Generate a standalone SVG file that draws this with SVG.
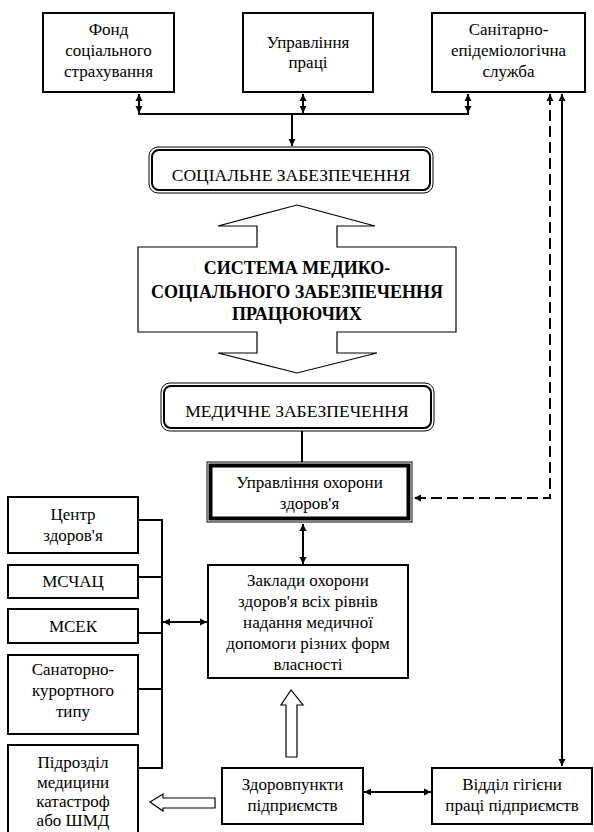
<svg xmlns="http://www.w3.org/2000/svg" width="594" height="832" viewBox="0 0 594 832">
<style>
  .box { fill: #fff; stroke: #000; stroke-width: 2; }
  .t { font-family: "Liberation Serif", "Times New Roman", serif; font-size: 17px; fill: #000; text-anchor: middle; }
  .tc { font-family: "Liberation Serif", "Times New Roman", serif; font-size: 17.5px; fill: #000; text-anchor: middle; }
  .tb { font-family: "Liberation Serif", "Times New Roman", serif; font-size: 18px; font-weight: bold; fill: #000; text-anchor: middle; }
  .ln { fill: none; stroke: #000; stroke-width: 2; }
  .dash { fill: none; stroke: #000; stroke-width: 2; stroke-dasharray: 11 5; }
  .hollow { fill: #fff; stroke: #000; stroke-width: 1.2; }
</style>
<defs>
  <marker id="ah" markerUnits="userSpaceOnUse" markerWidth="8" markerHeight="8" refX="7" refY="4" orient="auto-start-reverse">
    <path d="M0,0.5 L7,4 L0,7.5 z" fill="#000"/>
  </marker>
</defs>
<rect width="594" height="832" fill="#fff"/>

<g id="connectors">
  <line class="ln" x1="139" y1="94" x2="139" y2="113" marker-start="url(#ah)" marker-end="url(#ah)"/>
  <line class="ln" x1="303" y1="94" x2="303" y2="113" marker-start="url(#ah)" marker-end="url(#ah)"/>
  <line class="ln" x1="468" y1="94" x2="468" y2="113" marker-start="url(#ah)" marker-end="url(#ah)"/>
  <line class="ln" x1="138" y1="114" x2="469" y2="114"/>
  <line class="ln" x1="292" y1="114" x2="292" y2="146" marker-end="url(#ah)"/>
  <polyline class="dash" points="550,94 550,498 414,498" marker-start="url(#ah)" marker-end="url(#ah)"/>
  <line class="ln" x1="562" y1="94" x2="562" y2="766" marker-start="url(#ah)" marker-end="url(#ah)"/>
  <line class="ln" x1="302" y1="431" x2="302" y2="462"/>
  <line class="ln" x1="303" y1="524" x2="303" y2="564" marker-start="url(#ah)" marker-end="url(#ah)"/>
  <polyline class="ln" points="138,520 162,520 162,768 138,768"/>
  <line class="ln" x1="138" y1="577" x2="162" y2="577"/>
  <line class="ln" x1="138" y1="633" x2="162" y2="633"/>
  <line class="ln" x1="138" y1="689" x2="162" y2="689"/>
  <line class="ln" x1="163" y1="622" x2="207" y2="622" marker-start="url(#ah)" marker-end="url(#ah)"/>
  <line class="ln" x1="364" y1="792" x2="431" y2="792" marker-start="url(#ah)" marker-end="url(#ah)"/>
  <path class="hollow" d="M286,757 L286,705 L281,705 L291,690 L303,705 L297,705 L297,757 Z"/>
  <path class="hollow" d="M215,798 L163,798 L163,794 L150,802 L163,811 L163,808 L215,808 Z"/>
</g>

<g id="fond">
  <rect class="box" x="43" y="13" width="131" height="79"/>
  <text class="t" x="108.5" y="35">Фонд</text>
  <text class="t" x="108.5" y="56">соціального</text>
  <text class="t" x="108.5" y="77">страхування</text>
</g>
<g id="upr-praci">
  <rect class="box" x="243" y="13" width="130" height="79"/>
  <text class="t" x="308" y="48">Управління</text>
  <text class="t" x="308" y="68">праці</text>
</g>
<g id="ses">
  <rect class="box" x="432" y="13" width="153" height="79"/>
  <text class="t" x="508.5" y="35">Санітарно-</text>
  <text class="t" x="508.5" y="56">епідеміологічна</text>
  <text class="t" x="508.5" y="77">служба</text>
</g>

<g id="social">
  <rect x="149" y="147" width="284" height="46" rx="9" fill="#fff" stroke="#000" stroke-width="1"/>
  <rect x="152" y="150" width="278" height="40" rx="7" fill="none" stroke="#000" stroke-width="2"/>
  <text class="tc" x="291" y="181">СОЦІАЛЬНЕ ЗАБЕЗПЕЧЕННЯ</text>
</g>

<g id="system">
  <path d="M297,205 L375,226 L337,226 L337,247 L456,247 L456,332 L337,332 L337,353 L377,353 L297,373 L218,353 L257,353 L257,332 L138,332 L138,247 L257,247 L257,226 L218,226 Z" fill="#fff" stroke="#000" stroke-width="1.2"/>
  <text class="tb" x="297" y="274">СИСТЕМА МЕДИКО-</text>
  <text class="tb" x="297" y="298">СОЦІАЛЬНОГО ЗАБЕЗПЕЧЕННЯ</text>
  <text class="tb" x="297" y="320">ПРАЦЮЮЧИХ</text>
</g>

<g id="medical">
  <rect x="161" y="383" width="273" height="48" rx="9" fill="#fff" stroke="#000" stroke-width="1"/>
  <rect x="164" y="386" width="267" height="42" rx="7" fill="none" stroke="#000" stroke-width="2"/>
  <text class="tc" x="297" y="417">МЕДИЧНЕ ЗАБЕЗПЕЧЕННЯ</text>
</g>

<g id="health-dept">
  <rect x="207" y="462" width="205" height="60" fill="#fff" stroke="#000" stroke-width="1"/>
  <rect x="210.5" y="465.5" width="198" height="53" fill="none" stroke="#000" stroke-width="4"/>
  <text class="t" x="309.5" y="488">Управління охорони</text>
  <text class="t" x="309.5" y="509">здоров'я</text>
</g>

<g id="institutions">
  <rect class="box" x="208" y="565" width="200" height="113"/>
  <text class="t" x="308" y="586">Заклади охорони</text>
  <text class="t" x="308" y="607">здоров'я всіх рівнів</text>
  <text class="t" x="308" y="628">надання медичної</text>
  <text class="t" x="308" y="649">допомоги різних форм</text>
  <text class="t" x="308" y="670">власності</text>
</g>

<g id="centr">
  <rect class="box" x="8" y="497" width="130" height="56"/>
  <text class="t" x="73" y="520">Центр</text>
  <text class="t" x="73" y="541">здоров'я</text>
</g>
<g id="msch">
  <rect class="box" x="8" y="565" width="130" height="33"/>
  <text class="t" x="73" y="587">МСЧАЦ</text>
</g>
<g id="msek">
  <rect class="box" x="8" y="609" width="130" height="34"/>
  <text class="t" x="73" y="632">МСЕК</text>
</g>
<g id="sanat">
  <rect class="box" x="8" y="655" width="130" height="79"/>
  <text class="t" x="73" y="675">Санаторно-</text>
  <text class="t" x="73" y="696">курортного</text>
  <text class="t" x="73" y="717">типу</text>
</g>
<g id="katastrof">
  <rect class="box" x="8" y="745" width="130" height="92"/>
  <text class="t" x="73" y="768">Підрозділ</text>
  <text class="t" x="73" y="788">медицини</text>
  <text class="t" x="73" y="807">катастроф</text>
  <text class="t" x="73" y="826">або ШМД</text>
</g>

<g id="zdorovpunkty">
  <rect class="box" x="222" y="768" width="141" height="56"/>
  <text class="t" x="292.5" y="790">Здоровпункти</text>
  <text class="t" x="292.5" y="811">підприємств</text>
</g>
<g id="viddil">
  <rect class="box" x="432" y="768" width="160" height="56"/>
  <text class="t" x="512" y="790">Відділ гігієни</text>
  <text class="t" x="512" y="811">праці підприємств</text>
</g>
</svg>
